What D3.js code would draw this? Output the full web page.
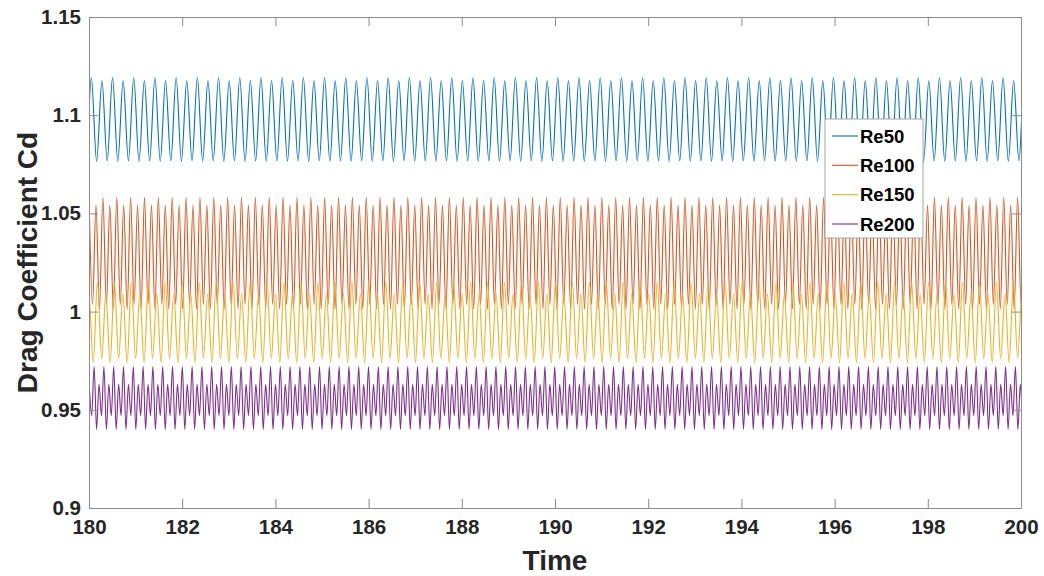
<!DOCTYPE html>
<html>
<head>
<meta charset="utf-8">
<script src="https://cdn.jsdelivr.net/npm/d3@7"></script>
<style>
    body { margin: 0; background: #fff; }
    svg { display: block; font-family: 'Liberation Sans', Arial, sans-serif; }
    .tickLabel { font-size: 20.5px; font-weight: bold; fill: #262626; }
    .axisTitle { font-size: 28px; font-weight: bold; fill: #262626; }
    .legendText { font-size: 18.5px; font-weight: bold; fill: #000; }
</style>
</head>
<body>
<svg id="chart"></svg>
<script>
const width = 1044;
const height = 576;
const plot = { left: 89, right: 1021, top: 17, bottom: 508 };

const timeDomain = [180, 200];
const cdDomain = [0.9, 1.15];
const timeTicks = [180, 182, 184, 186, 188, 190, 192, 194, 196, 198, 200];
const cdTicks = [0.9, 0.95, 1, 1.05, 1.1, 1.15];

const seriesNames = ['Re50', 'Re100', 'Re150', 'Re200'];
const seriesColors = ['#0072BD', '#D95319', '#EDB120', '#7E2F8E'];

// peak / trough levels of one repeating cycle
const re50Levels = [1.1192, 1.0765, 1.1176, 1.0768];
const re100Levels = [1.0543, 1.0012, 1.0582, 1.0035];
const re150Levels = [0.9740, 1.0150, 0.9760, 1.0090];
const re200Levels = [0.9720, 0.9400, 0.9630, 0.9470];

// time of first extremum and time between extrema
const firstExtremum = [180.05, 180.15, 180.09, 180.11];
const extremumStep = [0.11375, 0.07435, 0.091, 0.05258];

const levels = [re50Levels, re100Levels, re150Levels, re200Levels];

const buildSeries = i => {
    const pts = [];
    for (let k = -2; ; k++) {
        const t = firstExtremum[i] + k * extremumStep[i];
        const lv = levels[i];
        pts.push({ t: t, cd: lv[((k % lv.length) + lv.length) % lv.length] });
        if (t > timeDomain[1] + extremumStep[i]) break;
    }
    return pts;
};

const dataset = seriesNames.map((name, i) => ({
    name: name,
    color: seriesColors[i],
    values: buildSeries(i)
}));

const svg = d3.select('#chart')
    .attr('width', width)
    .attr('height', height);

const xScale = d3.scaleLinear()
    .domain(timeDomain)
    .range([plot.left, plot.right]);

const yScale = d3.scaleLinear()
    .domain(cdDomain)
    .range([plot.bottom, plot.top]);

svg.append('clipPath')
    .attr('id', 'plotClip')
    .append('rect')
    .attr('x', plot.left)
    .attr('y', plot.top)
    .attr('width', plot.right - plot.left)
    .attr('height', plot.bottom - plot.top);

const line = d3.line()
    .x(d => xScale(d.t))
    .y(d => yScale(d.cd))
    .curve(d3.curveMonotoneX);

svg.append('g')
    .attr('clip-path', 'url(#plotClip)')
    .selectAll('path')
    .data(dataset)
    .enter()
    .append('path')
    .attr('d', d => line(d.values))
    .attr('fill', 'none')
    .attr('stroke', d => d.color)
    .attr('stroke-width', 1.1);

// axes, MATLAB style: box with inward ticks on all sides
const tickLen = 9;
const boxColor = '#8c8c8c';

const xAxisBottom = d3.axisBottom(xScale).tickValues(timeTicks).tickSizeInner(-tickLen).tickSizeOuter(0).tickFormat(d3.format('d'));
const xAxisTop = d3.axisTop(xScale).tickValues(timeTicks).tickSizeInner(-tickLen).tickSizeOuter(0).tickFormat('');
const yAxisLeft = d3.axisLeft(yScale).tickValues(cdTicks).tickSizeInner(-tickLen).tickSizeOuter(0).tickFormat(d3.format('~g'));
const yAxisRight = d3.axisRight(yScale).tickValues(cdTicks).tickSizeInner(-tickLen).tickSizeOuter(0).tickFormat('');

const styleAxis = g => {
    g.select('.domain').attr('stroke', boxColor);
    g.selectAll('.tick line').attr('stroke', boxColor);
    g.selectAll('.tick text')
        .attr('class', 'tickLabel')
        .attr('fill', null);
    g.attr('font-family', null).attr('font-size', null);
};

svg.append('g')
    .attr('transform', `translate(0, ${plot.bottom})`)
    .call(xAxisBottom)
    .call(styleAxis)
    .selectAll('.tick text')
    .attr('y', 11);

svg.append('g')
    .attr('transform', `translate(0, ${plot.top})`)
    .call(xAxisTop)
    .call(styleAxis);

svg.append('g')
    .attr('transform', `translate(${plot.left}, 0)`)
    .call(yAxisLeft)
    .call(styleAxis)
    .selectAll('.tick text')
    .attr('x', -8);

svg.append('g')
    .attr('transform', `translate(${plot.right}, 0)`)
    .call(yAxisRight)
    .call(styleAxis);

svg.append('text')
    .attr('class', 'axisTitle')
    .attr('x', (plot.left + plot.right) / 2)
    .attr('y', 570)
    .attr('text-anchor', 'middle')
    .text('Time');

svg.append('text')
    .attr('class', 'axisTitle')
    .attr('transform', `translate(37, ${(plot.top + plot.bottom) / 2}) rotate(-90)`)
    .attr('text-anchor', 'middle')
    .text('Drag Coefficient Cd');

// legend
const legend = svg.append('g')
    .attr('transform', 'translate(825, 119)');

legend.append('rect')
    .attr('width', 98)
    .attr('height', 119)
    .attr('fill', '#fff')
    .attr('stroke', '#a6a6a6')
    .attr('stroke-width', 1);

const rowY = d3.scalePoint()
    .domain(seriesNames)
    .range([17, 105]);

const rows = legend.selectAll('.legendRow')
    .data(dataset)
    .enter()
    .append('g')
    .attr('class', 'legendRow')
    .attr('transform', d => `translate(0, ${rowY(d.name)})`);

rows.append('line')
    .attr('x1', 7)
    .attr('x2', 33)
    .attr('stroke', d => d.color)
    .attr('stroke-width', 1.1);

rows.append('text')
    .attr('class', 'legendText')
    .attr('x', 35)
    .attr('dy', '0.36em')
    .text(d => d.name);
</script>
</body>
</html>
